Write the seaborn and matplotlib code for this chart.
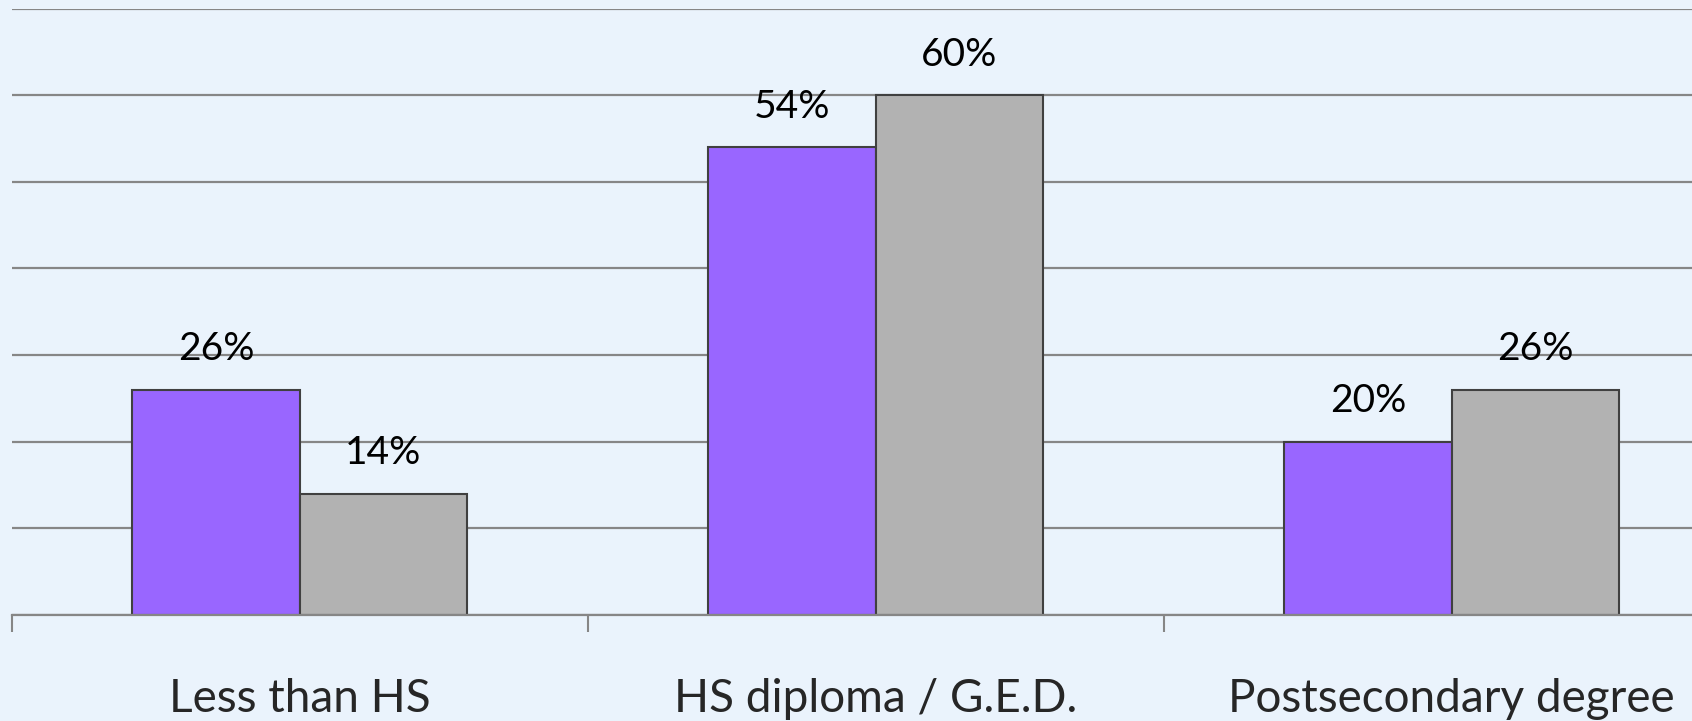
import pandas as pd
import matplotlib
matplotlib.use("Agg")
import matplotlib.pyplot as plt
import seaborn as sns

# chart data
categories = ["Less than HS", "HS diploma / G.E.D.", "Postsecondary degree"]
groups = ["Group A", "Group B"]
values_a = [26, 54, 20]
values_b = [14, 60, 26]

df = pd.DataFrame({
    "category": categories * 2,
    "group": [groups[0]] * 3 + [groups[1]] * 3,
    "value": values_a + values_b,
})

bg = "#EAF3FC"
sns.set_theme(style="white")
plt.rcParams["font.family"] = ["Lato", "DejaVu Sans"]

fig = plt.figure(figsize=(16.92, 7.21), dpi=100, facecolor=bg)
# plot area runs past the right edge of the picture, as in the original
ax = fig.add_axes([11.5 / 1692, 106 / 721, 3 * 576 / 1692, 606.5 / 721])
ax.set_facecolor(bg)

sns.barplot(data=df, x="category", y="value", hue="group",
            palette=["#9966FF", "#B2B2B2"], saturation=1, width=0.58, gap=0,
            edgecolor="#404040", linewidth=1.5, legend=False, ax=ax)

for container in ax.containers:
    for bar in container:
        h = bar.get_height()
        ax.annotate(f"{h:.0f}%", (bar.get_x() + bar.get_width() / 2, h),
                    xytext=(0, 29), textcoords="offset points",
                    ha="center", va="center", fontsize=28, color="black")

ax.set_xlim(-0.5, 2.5)
ax.set_ylim(0, 70)
ax.set_yticks(range(0, 71, 10))
ax.yaxis.grid(True, color="#868686", linewidth=1.6)
ax.set_axisbelow(True)
ax.tick_params(axis="y", length=0, labelleft=False)

ax.set_xticks([0, 1, 2])
ax.set_xticklabels(categories, fontsize=33)
ax.set_xticks([-0.5, 0.5, 1.5, 2.5], minor=True)
ax.tick_params(axis="x", which="major", length=0, pad=45)
ax.tick_params(axis="x", which="minor", length=12, width=1.5, color="#868686",
               bottom=True)
ax.set_xlabel("")
ax.set_ylabel("")

for side in ["left", "right", "top"]:
    ax.spines[side].set_visible(False)
ax.spines["bottom"].set_color("#868686")
ax.spines["bottom"].set_linewidth(1.6)

fig.savefig("out.png", dpi=100, facecolor=bg)
